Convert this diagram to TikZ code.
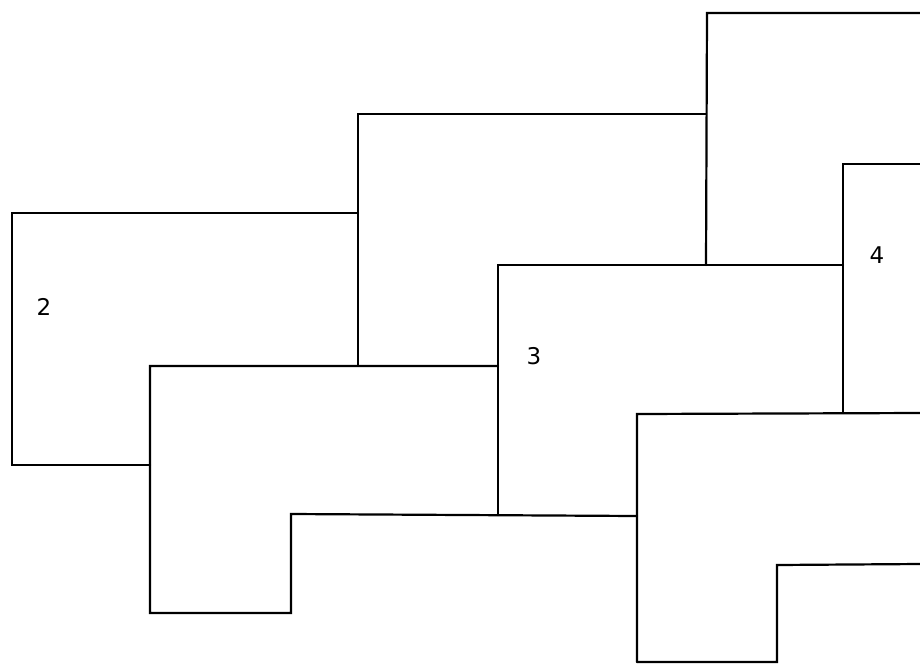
\documentclass[tikz,border=0pt]{standalone}
\usepackage{fontspec}
\setsansfont{DejaVu Sans}
\begin{document}
\begin{tikzpicture}[x=1pt,y=-1pt,
  edge/.style={line width=2.2pt,line cap=round,line join=miter,black},
  lbl/.style={font=\sffamily\fontsize{23}{26}\selectfont,inner sep=0pt}]
\useasboundingbox[fill=white] (0,0) rectangle (920,664);
% sheet 2
\draw[edge] (150,465) -- (12,465) -- (12,213) -- (358,213);
% sheet behind 2/3
\draw[edge] (358,365) -- (358,114) -- (706,114);
% top sheet
\draw[edge] (706,265) -- (707,13) -- (920,13);
% sheet starting at 150
\draw[edge] (498,366) -- (150,366) -- (150,613) -- (291,613) -- (291,514) -- (637,516);
% sheet 3
\draw[edge] (498,515) -- (498,265) -- (843,265);
% sheet 4
\draw[edge] (843,413) -- (843,164) -- (920,164);
% lower right sheet
\draw[edge] (637,662) -- (637,414) -- (920,413);
% bottom right sheet
\draw[edge] (637,662) -- (777,662) -- (777,565) -- (920,564);
% labels
\node[lbl] (n2) at (44,307) {2};
\node[lbl] (n3) at (534,356) {3};
\node[lbl] (n4) at (877,255) {4};
\end{tikzpicture}
\end{document}
